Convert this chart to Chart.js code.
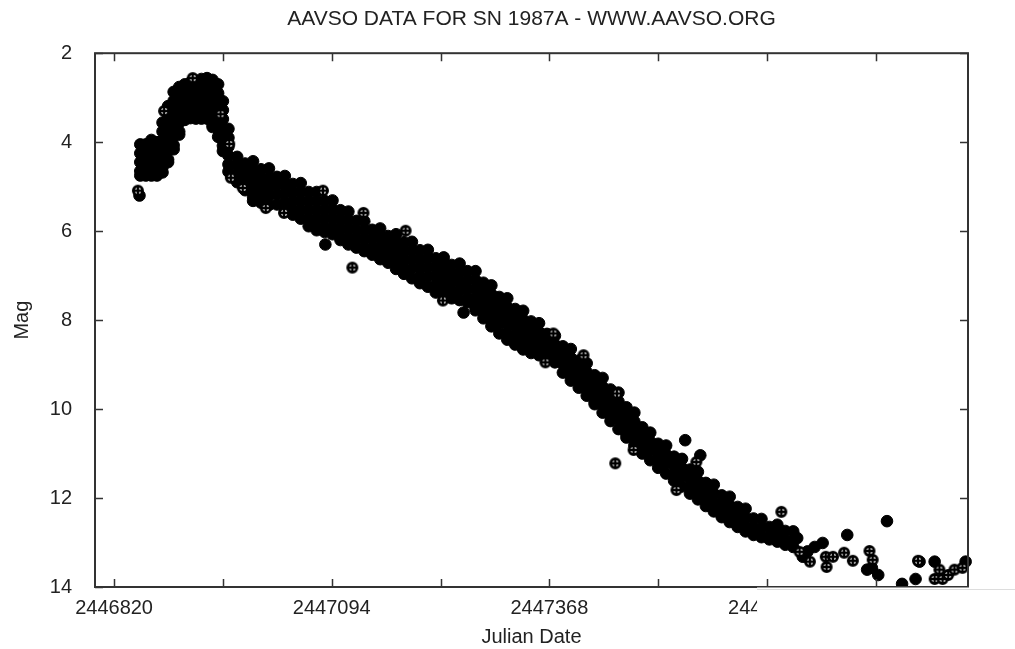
<!DOCTYPE html>
<html>
<head>
<meta charset="utf-8">
<script src="https://cdn.jsdelivr.net/npm/chart.js@4.4.1/dist/chart.umd.min.js"></script>
<style>
  html, body { margin: 0; padding: 0; background: #fff; }
</style>
</head>
<body>
<canvas id="chart" width="1015" height="649"></canvas>
<script>
const chartTitle = 'AAVSO DATA FOR SN 1987A - WWW.AAVSO.ORG';
const xTickValues = [2446820, 2447094, 2447368, 2447642];
const xMinorTicks = [2446957, 2447231, 2447505, 2447779];
const yTickValues = [2, 4, 6, 8, 10, 12, 14];

// rise to the May 1987 maximum: [JD, magnitudes seen around that date]
const riseCols = [
    [2446853, [4.05, 4.25, 4.45, 4.65, 4.75]],
    [2446860, [4.05, 4.25, 4.45, 4.65, 4.75]],
    [2446867, [3.95, 4.15, 4.35, 4.55, 4.75]],
    [2446874, [4.0, 4.2, 4.4, 4.6, 4.75]],
    [2446881, [3.56, 3.76, 3.96, 4.16, 4.36, 4.56, 4.68]],
    [2446888, [3.19, 3.39, 3.59, 3.79, 3.99, 4.19, 4.39, 4.45]],
    [2446895, [2.87, 3.07, 3.27, 3.47, 3.67, 3.87, 4.07, 4.16]],
    [2446902, [2.76, 2.96, 3.16, 3.36, 3.56, 3.76, 3.83]],
    [2446909, [2.7, 2.9, 3.1, 3.3, 3.5]],
    [2446916, [2.66, 2.86, 3.06, 3.26, 3.46]],
    [2446923, [2.62, 2.82, 3.02, 3.22, 3.42, 3.47]],
    [2446930, [2.58, 2.78, 2.98, 3.18, 3.38, 3.47]],
    [2446937, [2.56, 2.76, 2.96, 3.16, 3.36, 3.47]],
    [2446944, [2.6, 2.8, 3.0, 3.2, 3.4, 3.6, 3.66]],
    [2446951, [2.7, 2.9, 3.1, 3.3, 3.5, 3.7, 3.88]],
    [2446957, [3.08, 3.28, 3.48, 3.68, 3.88, 4.08, 4.2]],
    [2446964, [3.7, 3.9, 4.1, 4.3, 4.5, 4.66]]
];

// the long decline
const declineCols = [
    [2446975, [4.33, 4.53, 4.73, 4.9]],
    [2446985, [4.48, 4.68, 4.88, 5.08]],
    [2446995, [4.43, 4.63, 4.83, 5.03, 5.23, 5.32]],
    [2447005, [4.61, 4.81, 5.01, 5.21, 5.36]],
    [2447015, [4.59, 4.79, 4.99, 5.19, 5.41]],
    [2447025, [4.78, 4.98, 5.18, 5.4]],
    [2447035, [4.76, 4.96, 5.16, 5.36, 5.52]],
    [2447045, [4.94, 5.14, 5.34, 5.54, 5.63]],
    [2447055, [4.92, 5.12, 5.32, 5.52, 5.72]],
    [2447065, [5.12, 5.32, 5.52, 5.72, 5.89]],
    [2447075, [5.12, 5.32, 5.52, 5.72, 5.92, 5.98]],
    [2447085, [5.32, 5.52, 5.72, 5.92, 6.02]],
    [2447095, [5.31, 5.51, 5.71, 5.91, 6.07]],
    [2447105, [5.53, 5.73, 5.93, 6.13, 6.2]],
    [2447115, [5.56, 5.76, 5.96, 6.16, 6.3]],
    [2447125, [5.77, 5.97, 6.17, 6.37]],
    [2447135, [5.78, 5.98, 6.18, 6.38, 6.45]],
    [2447145, [5.97, 6.17, 6.37, 6.53]],
    [2447155, [5.94, 6.14, 6.34, 6.54, 6.63]],
    [2447165, [6.11, 6.31, 6.51, 6.71]],
    [2447175, [6.07, 6.27, 6.47, 6.67, 6.85]],
    [2447185, [6.25, 6.45, 6.65, 6.85, 6.96]],
    [2447195, [6.24, 6.44, 6.64, 6.84, 7.06]],
    [2447205, [6.43, 6.63, 6.83, 7.03, 7.17]],
    [2447215, [6.42, 6.62, 6.82, 7.02, 7.25]],
    [2447225, [6.61, 6.81, 7.01, 7.21, 7.38]],
    [2447235, [6.59, 6.79, 6.99, 7.19, 7.39, 7.46]],
    [2447245, [6.76, 6.96, 7.16, 7.36, 7.51]],
    [2447255, [6.73, 6.93, 7.13, 7.33, 7.55]],
    [2447265, [6.9, 7.1, 7.3, 7.5, 7.6]],
    [2447275, [6.9, 7.1, 7.3, 7.5, 7.7, 7.78]],
    [2447285, [7.16, 7.36, 7.56, 7.76, 7.96]],
    [2447295, [7.22, 7.42, 7.62, 7.82, 8.02, 8.14]],
    [2447305, [7.48, 7.68, 7.88, 8.08, 8.3]],
    [2447315, [7.51, 7.71, 7.91, 8.11, 8.31, 8.44]],
    [2447325, [7.75, 7.95, 8.15, 8.35, 8.55]],
    [2447335, [7.79, 7.99, 8.19, 8.39, 8.59, 8.66]],
    [2447345, [8.03, 8.23, 8.43, 8.63, 8.74]],
    [2447355, [8.07, 8.27, 8.47, 8.67, 8.79]],
    [2447365, [8.31, 8.51, 8.71, 8.84]],
    [2447375, [8.35, 8.55, 8.75, 8.95]],
    [2447385, [8.59, 8.79, 8.99, 9.18]],
    [2447395, [8.65, 8.85, 9.05, 9.25, 9.36]],
    [2447405, [8.91, 9.11, 9.31, 9.52]],
    [2447415, [8.97, 9.17, 9.37, 9.57, 9.7]],
    [2447425, [9.24, 9.44, 9.64, 9.84, 9.89]],
    [2447435, [9.3, 9.5, 9.7, 9.9, 10.08]],
    [2447445, [9.56, 9.76, 9.96, 10.16, 10.27]],
    [2447455, [9.63, 9.83, 10.03, 10.23, 10.45]],
    [2447465, [9.96, 10.16, 10.36, 10.56, 10.64]],
    [2447475, [10.08, 10.28, 10.48, 10.68, 10.82]],
    [2447485, [10.41, 10.61, 10.81, 11.0]],
    [2447495, [10.53, 10.73, 10.93, 11.15]],
    [2447505, [10.78, 10.98, 11.18, 11.32]],
    [2447515, [10.82, 11.02, 11.22, 11.45]],
    [2447525, [11.07, 11.27, 11.47, 11.61]],
    [2447535, [11.12, 11.32, 11.52, 11.74]],
    [2447545, [11.36, 11.56, 11.76, 11.9]],
    [2447555, [11.41, 11.61, 11.81, 12.03]],
    [2447565, [11.66, 11.86, 12.06, 12.18]],
    [2447575, [11.7, 11.9, 12.1, 12.3]],
    [2447585, [11.94, 12.14, 12.34, 12.43]],
    [2447595, [11.97, 12.17, 12.37, 12.54]],
    [2447605, [12.2, 12.4, 12.6, 12.65]],
    [2447615, [12.24, 12.44, 12.64, 12.75]],
    [2447625, [12.46, 12.66, 12.83]],
    [2447635, [12.47, 12.67, 12.88]],
    [2447645, [12.65, 12.85, 12.93]],
    [2447655, [12.6, 12.8, 12.98]],
    [2447665, [12.74, 12.94, 13.05]],
    [2447675, [12.75, 12.95, 13.1]]
];

// scattered single estimates (filled marks)
const strayJD = [2446852, 2447086, 2447260, 2447539, 2447558, 2447680, 2447687, 2447693, 2447702, 2447712,
    2447743, 2447768, 2447774, 2447782, 2447793, 2447812, 2447829, 2447834, 2447853, 2447892];
const strayMag = [5.2, 6.3, 7.83, 10.7, 11.04, 12.9, 13.32, 13.2, 13.1, 13.01,
    12.83, 13.61, 13.57, 13.73, 12.52, 13.93, 13.82, 13.43, 13.43, 13.43];

// estimates drawn with the crossed circle
const crossJD = [2446850, 2446883, 2446919, 2446954, 2446965, 2446967, 2446982, 2447011, 2447034, 2447083,
    2447120, 2447134, 2447187, 2447234, 2447363, 2447373, 2447411, 2447451, 2447453, 2447474,
    2447528, 2447553, 2447660, 2447683, 2447696, 2447716, 2447717, 2447725, 2447739, 2447750,
    2447771, 2447775, 2447832, 2447853, 2447859, 2447863, 2447870, 2447878, 2447888];
const crossMag = [5.09, 3.3, 2.56, 3.37, 4.04, 4.8, 5.03, 5.48, 5.59, 5.09,
    6.82, 5.59, 5.99, 7.56, 8.95, 8.3, 8.79, 11.22, 9.65, 10.92,
    11.82, 11.19, 12.31, 13.21, 13.43, 13.32, 13.55, 13.32, 13.23, 13.41,
    13.19, 13.39, 13.41, 13.82, 13.61, 13.82, 13.73, 13.61, 13.57];

const filledPoints = [];
for (const [jd, mags] of riseCols.concat(declineCols)) {
    for (const m of mags) filledPoints.push({ x: jd, y: m });
}
strayJD.forEach((jd, i) => filledPoints.push({ x: jd, y: strayMag[i] }));
const crossPoints = crossJD.map((jd, i) => ({ x: jd, y: crossMag[i] }));

const makeCrossMarker = () => {
    const c = document.createElement('canvas');
    c.width = 14;
    c.height = 14;
    const g = c.getContext('2d');
    g.beginPath();
    g.arc(7, 7, 4.6, 0, Math.PI * 2);
    g.fillStyle = '#fff';
    g.fill();
    g.lineWidth = 2.8;
    g.strokeStyle = '#000';
    g.stroke();
    g.lineWidth = 2.4;
    g.beginPath();
    g.moveTo(7, 2.5);
    g.lineTo(7, 11.5);
    g.moveTo(2.5, 7);
    g.lineTo(11.5, 7);
    g.stroke();
    return c;
};

const FONT = '"Liberation Sans", Arial, sans-serif';
const INK = '#222';

const framePlugin = {
    id: 'frame',
    afterDatasetsDraw(chart) {
        const { ctx, chartArea: a, scales: { x, y } } = chart;
        ctx.save();
        ctx.strokeStyle = '#333';
        ctx.lineWidth = 1.5;
        ctx.beginPath();
        xTickValues.concat(xMinorTicks).forEach(v => {
            const px = Math.round(x.getPixelForValue(v)) + 0.5;
            if (px < a.left || px > a.right) return;
            ctx.moveTo(px, a.bottom);
            ctx.lineTo(px, a.bottom - 8);
            ctx.moveTo(px, a.top);
            ctx.lineTo(px, a.top + 8);
        });
        yTickValues.forEach(v => {
            const py = Math.round(y.getPixelForValue(v)) + 0.5;
            ctx.moveTo(a.left, py);
            ctx.lineTo(a.left + 8, py);
            ctx.moveTo(a.right, py);
            ctx.lineTo(a.right - 8, py);
        });
        ctx.stroke();
        ctx.lineWidth = 2;
        ctx.strokeRect(a.left, a.top, a.right - a.left, a.bottom - a.top);

        // the scan is blanked out under the right end of the date axis
        const cut = x.getPixelForValue(xTickValues[3]) - 10;
        ctx.fillStyle = '#fff';
        ctx.fillRect(cut, a.bottom + 0.5, chart.width - cut, chart.height - a.bottom);
        ctx.strokeStyle = '#ddd';
        ctx.lineWidth = 1;
        ctx.beginPath();
        ctx.moveTo(cut, a.bottom + 2.5);
        ctx.lineTo(chart.width, a.bottom + 2.5);
        ctx.stroke();
        ctx.restore();
    }
};

new Chart(document.getElementById('chart'), {
    type: 'scatter',
    data: {
        datasets: [
            {
                label: 'crossed',
                data: crossPoints,
                pointStyle: makeCrossMarker(),
                pointRadius: 6,
                clip: false
            },
            {
                label: 'observations',
                data: filledPoints,
                pointStyle: 'circle',
                pointRadius: 5.8,
                borderWidth: 1,
                backgroundColor: '#000',
                borderColor: '#000',
                clip: false
            }
        ]
    },
    options: {
        responsive: false,
        animation: false,
        devicePixelRatio: 1,
        layout: { padding: { top: 0, right: 47, left: 0, bottom: 0 } },
        plugins: {
            legend: { display: false },
            tooltip: { enabled: false },
            title: {
                display: true,
                text: chartTitle,
                fullSize: false,
                color: INK,
                font: { family: FONT, size: 21, weight: 'normal' },
                padding: { top: 7, bottom: 21 }
            }
        },
        scales: {
            x: {
                type: 'linear',
                min: 2446796,
                max: 2447895,
                grid: { display: false },
                border: { display: false },
                afterBuildTicks: axis => {
                    axis.ticks = xTickValues.map(value => ({ value }));
                },
                afterFit: scale => {
                    scale.height = 62;
                },
                ticks: {
                    autoSkip: false,
                    maxRotation: 0,
                    padding: 1,
                    color: INK,
                    font: { family: FONT, size: 20 },
                    callback: value => String(value)
                },
                title: {
                    display: true,
                    text: 'Julian Date',
                    color: INK,
                    font: { family: FONT, size: 20 },
                    padding: { top: 0, bottom: 0 }
                }
            },
            y: {
                min: 2,
                max: 14,
                reverse: true,
                grid: { display: false },
                border: { display: false },
                afterBuildTicks: axis => {
                    axis.ticks = yTickValues.map(value => ({ value }));
                },
                afterFit: scale => {
                    scale.width = 95;
                },
                ticks: {
                    padding: 15,
                    color: INK,
                    font: { family: FONT, size: 20 }
                },
                title: {
                    display: true,
                    text: 'Mag',
                    color: INK,
                    font: { family: FONT, size: 20 },
                    padding: { top: 10, bottom: 0 }
                }
            }
        }
    },
    plugins: [framePlugin]
});
</script>
</body>
</html>
